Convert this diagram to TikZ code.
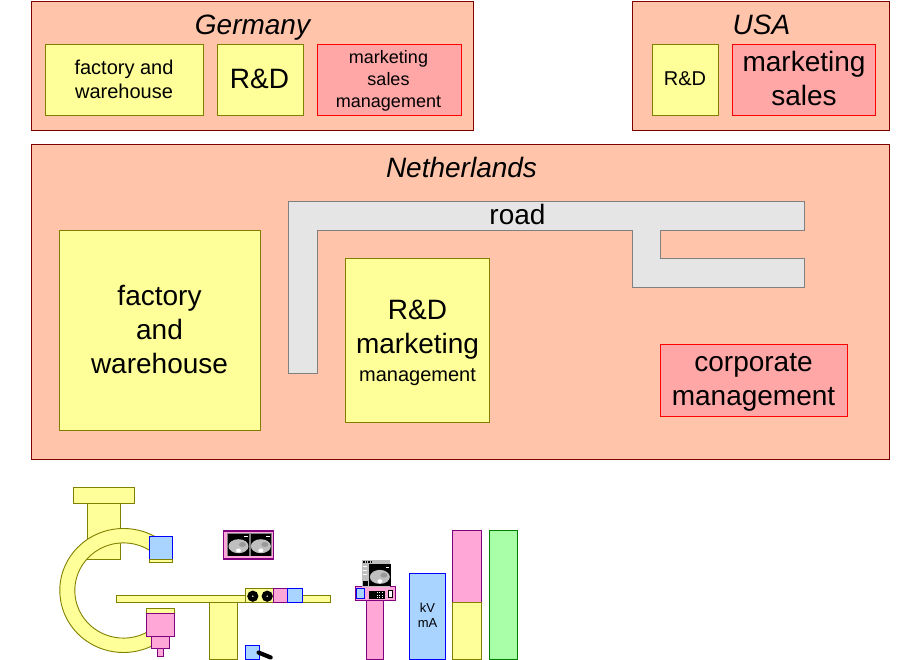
\documentclass[tikz,border=0pt]{standalone}
\usepackage{fontspec}
\setmainfont{Liberation Sans}
\usetikzlibrary{positioning}
\definecolor{regionfill}{RGB}{255,196,170}
\definecolor{regionline}{RGB}{128,0,0}
\definecolor{yel}{RGB}{255,255,153}
\definecolor{yelline}{RGB}{128,128,0}
\definecolor{redfill}{RGB}{255,166,166}
\definecolor{pnk}{RGB}{255,168,216}
\definecolor{pnkline}{RGB}{128,0,128}
\definecolor{blu}{RGB}{168,212,255}
\definecolor{grn}{RGB}{168,255,168}
\definecolor{grnline}{RGB}{0,128,0}
\newcommand\sizeL{\fontsize{28}{34}\selectfont}
\newcommand\sizeM{\fontsize{20}{24}\selectfont}
\newcommand\sizeS{\fontsize{18}{22}\selectfont}
\tikzstyle{box} = [rectangle, anchor=north west, outer sep=0pt, inner sep=0pt, align=center, line width=1.3pt, draw=black]
\tikzstyle{region} = [box, fill=regionfill, draw=regionline]
\tikzstyle{yellowbox} = [box, fill=yel, draw=yelline]
\tikzstyle{redbox} = [box, fill=redfill, draw=red]
\tikzstyle{pinkbox} = [box, fill=pnk, draw=pnkline]
\tikzstyle{bluebox} = [box, fill=blu, draw=blue]
\tikzstyle{greenbox} = [box, fill=grn, draw=grnline]
\tikzstyle{title} = [font=\sizeL\itshape, inner sep=0pt]
\tikzstyle{caption} = [font=\sizeL, align=center, inner sep=0pt]
\tikzset{
	ring/.style = {circle, draw=black, fill=white, line width=4.4pt, minimum size=6.5pt, inner sep=0pt, outer sep=0pt},
}
% one scan image: top left corner, then size of the black part
\newcommand\ctscan[3]{
	\fill [black] (#1,#2) rectangle ++(#3,22);
	\fill [gray!50] (#1+#3/2,#2+12.7) ellipse [x radius=10, y radius=-7];
	\fill [gray!80] (#1+#3/2+4,#2+11) ellipse [x radius=3.5, y radius=-2.5];
	\fill [white] (#1+#3/2,#2+17) ellipse [x radius=2.5, y radius=-2];
	\fill [white] (#1+#3-5,#2+2.5) rectangle ++(3.5,1);
}
\begin{document}
\begin{tikzpicture}[x=1pt, y=-1pt]
\useasboundingbox (-0.5,-0.5) rectangle (919.5,659.5);
%----------------------------------------------------------------------------
% Germany
\node (germany) [region, minimum width=442, minimum height=129] at (31,1) {};
\node (germanyTitle) [title] at (252,27) {Germany};
\node (germanyFactory) [yellowbox, minimum width=158, minimum height=71] at (45,44) {};
\node (germanyFactoryText) [caption, font=\sizeM] at (123.5,78.5) {factory and\\warehouse};
\node (germanyRD) [yellowbox, right=14pt of germanyFactory, minimum width=86, minimum height=71] {};
\node (germanyRDText) [caption] at (259,78.5) {R\&D};
\node (germanySales) [redbox, right=14pt of germanyRD, minimum width=144, minimum height=71] {};
\node (germanySalesText) [caption, font=\sizeS] at (388,80.5) {marketing\\sales\\management};

%----------------------------------------------------------------------------
% USA
\node (usa) [region, minimum width=257, minimum height=129] at (632,1) {};
\node (usaTitle) [title] at (761,24) {USA};
\node (usaRD) [yellowbox, minimum width=66, minimum height=71] at (652,44) {};
\node (usaRDText) [caption, font=\sizeM] at (684.5,78.5) {R\&D};
\node (usaSales) [redbox, right=14pt of usaRD, minimum width=143, minimum height=71] {};
\node (usaSalesText) [caption] at (803.5,77.5) {marketing\\sales};

%----------------------------------------------------------------------------
% Netherlands
\node (netherlands) [region, minimum width=858, minimum height=315] at (31,144) {};
\node (netherlandsTitle) [title] at (461,167) {Netherlands};
\draw [fill=gray!20, draw=gray, line width=1.3pt] (288,201) -- (804,201) -- (804,230) -- (660,230) -- (660,258) -- (804,258) -- (804,287) -- (632,287) -- (632,230) -- (317,230) -- (317,373) -- (288,373) -- cycle;
\node (road) [caption] at (517,214) {road};
\node (nlFactory) [yellowbox, minimum width=201, minimum height=200] at (59,230) {};
\node (nlFactoryText) [caption] at (159,329) {factory\\and\\warehouse};
\node (nlRD) [yellowbox, minimum width=144, minimum height=164] at (345,258) {};
\node (nlRDText) [caption] at (417,342) {R\&D\\marketing\\[-6pt]{\sizeM management}};
\node (nlCorporate) [redbox, minimum width=187, minimum height=72] at (660,344) {};
\node (nlCorporateText) [caption] at (753,382) {corporate\\management};

%----------------------------------------------------------------------------
% C-arm stand
\node (standTop) [yellowbox, minimum width=61, minimum height=16] at (73,487) {};
\node (standColumn) [yellowbox, below=0pt of standTop, minimum width=33, minimum height=56] {};
\draw [fill=yel, draw=yelline, line width=0.9pt] (123,590) ++(55:63.7pt and 62pt) arc [start angle=55, end angle=305, x radius=63.7pt, y radius=62pt]
	-- ([shift={(123,590)}] 300:48.7pt and 47.6pt) arc [start angle=300, delta angle=-243, x radius=48.7pt, y radius=47.6pt] -- cycle;
\node (detector) [bluebox, minimum width=23, minimum height=23] at (149,536) {};
\node (detectorFoot) [yellowbox, below=0pt of detector, minimum width=23, minimum height=3] {};
\node (tubeTop) [yellowbox, minimum width=28, minimum height=5] at (146,608) {};
\node (tube) [pinkbox, below=0pt of tubeTop, minimum width=28, minimum height=23] {};
\node (tubeNeck) [pinkbox, below=0pt of tube, minimum width=18, minimum height=12] {};
\node (tubeEnd) [pinkbox, below=0pt of tubeNeck, minimum width=6, minimum height=8] {};

%----------------------------------------------------------------------------
% Table and its controls
\node (tableTop) [yellowbox, minimum width=214, minimum height=7] at (116,595) {};
\node (tableLeg) [yellowbox, minimum width=28, minimum height=57] at (209,602) {};
\node (tableControl) [yellowbox, minimum width=28, minimum height=14] at (245,588) {};
\node (ringLeft) [ring] at (252.3,595.7) {};
\node (ringRight) [ring] at (266.7,595.7) {};
\node (tablePink) [pinkbox, right=0pt of tableControl, minimum width=14, minimum height=14] {};
\node (tableBlue) [bluebox, right=0pt of tablePink, minimum width=15, minimum height=14] {};
\node (pedal) [bluebox, minimum width=14, minimum height=14] at (245,645) {};
\coordinate (pedalEnd) at (270.2,657);
\draw [line width=4.2pt, line cap=round] (pedal.east) ++(-1,0) -- (pedalEnd);

%----------------------------------------------------------------------------
% Viewing monitors
\node (viewer) [pinkbox, minimum width=50, minimum height=28] at (223,530.5) {};
\fill [gray] (226.3,532.7) rectangle (271.3,555.7);
\ctscan{227.3}{533}{21.4}
\ctscan{250}{533}{20.7}

%----------------------------------------------------------------------------
% Console
\node (consoleColumn) [pinkbox, minimum width=17, minimum height=59] at (366,600) {};
\node (consoleDesk) [pinkbox, minimum width=40, minimum height=14] at (355,586) {};
\node (consoleBlue) [bluebox, minimum width=8, minimum height=10] at (356,588) {};
\fill [black] (368,590) rectangle (384,598.7);
\foreach \y in {591.5,594,596.5}
	\foreach \x in {376,378.5,381}
		\fill [white] (\x,\y) rectangle ++(1.2,1.2);
\node (consoleSwitch) [box, fill=white, minimum width=4, minimum height=7] at (388,590) {};
\fill [gray!50] (361.3,559.3) rectangle (389.7,586);
\foreach \x in {362.5,365,367.5,370}
	\fill [black] (\x,560.5) rectangle ++(1.8,2);
\foreach \y in {565,569,573}
	\fill [white] (362.5,\y) rectangle ++(3.5,1.2);
\fill [black] (362,580) rectangle ++(5,5);
\fill [black] (368.7,563.3) rectangle (389,585.7);
\ctscan{368.7}{563.7}{21.3}

%----------------------------------------------------------------------------
% Cabinets
\node (generator) [bluebox, minimum width=36, minimum height=86] at (409,573) {};
\node (generatorText) [caption, font=\fontsize{13}{15}\selectfont] at (427,615) {kV\\mA};
\node (cabinetPink) [pinkbox, minimum width=29, minimum height=72] at (452,530) {};
\node (cabinetYellow) [yellowbox, below=0pt of cabinetPink, minimum width=29, minimum height=57] {};
\node (cabinetGreen) [greenbox, minimum width=28, minimum height=129] at (489,530) {};

\end{tikzpicture}
\end{document}
